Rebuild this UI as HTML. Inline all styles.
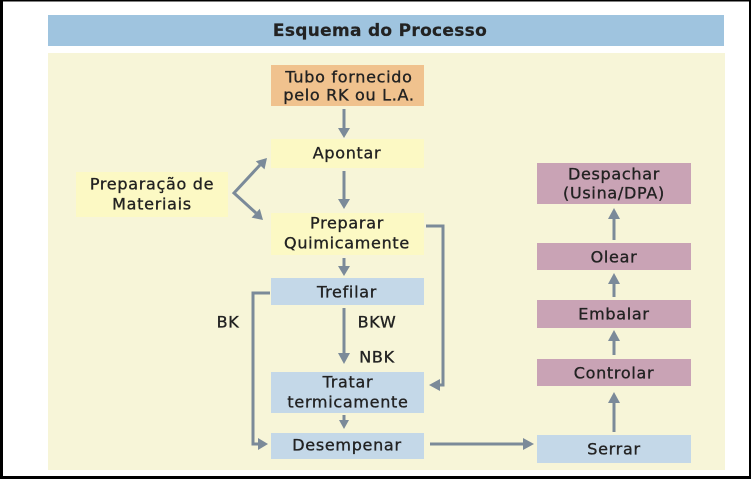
<!DOCTYPE html>
<html><head><meta charset="utf-8"><style>
html,body{margin:0;padding:0;background:#fff;}
svg{display:block;}
text{font-family:"DejaVu Sans","Liberation Sans",sans-serif;fill:#222;stroke:#222;stroke-width:0.35px;font-size:16px;letter-spacing:0.7px;}
</style></head><body>
<svg width="751" height="479" viewBox="0 0 751 479" xmlns="http://www.w3.org/2000/svg">
<rect x="0" y="0" width="751" height="479" fill="#fff"/>
<!-- black frame -->
<rect x="0" y="0" width="751" height="1.5" fill="#000"/>
<rect x="0" y="0" width="3" height="479" fill="#000"/>
<rect x="749" y="0" width="2" height="479" fill="#000"/>
<rect x="0" y="476" width="751" height="3" fill="#000"/>
<!-- header -->
<rect x="48" y="15" width="676" height="31" fill="#9fc4df"/>
<text x="380" y="31" text-anchor="middle" dominant-baseline="central" style="font-weight:bold;font-size:17px;letter-spacing:0.3px;stroke-width:0.2px">Esquema do Processo</text>
<!-- cream panel -->
<rect x="48" y="53" width="677" height="417" fill="#f7f5d8"/>

<!-- boxes -->
<rect x="271" y="65" width="153" height="41" fill="#f0c28e"/>
<rect x="271" y="139" width="153" height="29" fill="#fcf9c4"/>
<rect x="271" y="213" width="153" height="42" fill="#fcf9c4"/>
<rect x="76" y="172" width="152" height="45" fill="#fcf9c4"/>
<rect x="271" y="278" width="153" height="27" fill="#c4d8e8"/>
<rect x="271" y="372" width="153" height="41" fill="#c4d8e8"/>
<rect x="271" y="433" width="153" height="26" fill="#c4d8e8"/>
<rect x="537" y="435" width="154" height="28" fill="#c4d8e8"/>
<rect x="537" y="359" width="154" height="27" fill="#c9a3b5"/>
<rect x="537" y="300" width="154" height="28" fill="#c9a3b5"/>
<rect x="537" y="243" width="154" height="27" fill="#c9a3b5"/>
<rect x="537" y="163" width="154" height="41" fill="#c9a3b5"/>

<!-- texts -->
<text x="349" y="77" text-anchor="middle" dominant-baseline="central">Tubo fornecido</text>
<text x="349" y="95" text-anchor="middle" dominant-baseline="central">pelo RK ou L.A.</text>
<text x="347" y="153" text-anchor="middle" dominant-baseline="central">Apontar</text>
<text x="347" y="223" text-anchor="middle" dominant-baseline="central">Preparar</text>
<text x="347" y="243" text-anchor="middle" dominant-baseline="central">Quimicamente</text>
<text x="152" y="184" text-anchor="middle" dominant-baseline="central">Preparação de</text>
<text x="152" y="204" text-anchor="middle" dominant-baseline="central">Materiais</text>
<text x="347" y="292" text-anchor="middle" dominant-baseline="central">Trefilar</text>
<text x="228" y="322" text-anchor="middle" dominant-baseline="central">BK</text>
<text x="377" y="322" text-anchor="middle" dominant-baseline="central">BKW</text>
<text x="377" y="357" text-anchor="middle" dominant-baseline="central">NBK</text>
<text x="348" y="382" text-anchor="middle" dominant-baseline="central">Tratar</text>
<text x="348" y="402" text-anchor="middle" dominant-baseline="central">termicamente</text>
<text x="347" y="445" text-anchor="middle" dominant-baseline="central">Desempenar</text>
<text x="614" y="449" text-anchor="middle" dominant-baseline="central">Serrar</text>
<text x="614" y="373" text-anchor="middle" dominant-baseline="central">Controlar</text>
<text x="614" y="314" text-anchor="middle" dominant-baseline="central">Embalar</text>
<text x="614" y="257" text-anchor="middle" dominant-baseline="central">Olear</text>
<text x="614" y="174" text-anchor="middle" dominant-baseline="central">Despachar</text>
<text x="614" y="193" text-anchor="middle" dominant-baseline="central">(Usina/DPA)</text>

<!-- connectors -->
<g stroke="#7b8a99" stroke-width="3" fill="none">
<line x1="344" y1="109" x2="344" y2="130"/>
<line x1="344" y1="171" x2="344" y2="201"/>
<line x1="344" y1="258" x2="344" y2="268"/>
<line x1="344" y1="308" x2="344" y2="355"/>
<line x1="344" y1="415" x2="344" y2="422"/>
<line x1="430" y1="444" x2="525" y2="444"/>
<line x1="614" y1="432" x2="614" y2="401"/>
<line x1="614" y1="355" x2="614" y2="339"/>
<line x1="614" y1="297" x2="614" y2="282"/>
<line x1="614" y1="240" x2="614" y2="217"/>
<polyline points="270,293 253,293 253,444 260,444"/>
<polyline points="426,226 443,226 443,385 438,385"/>
<polyline points="260,165 234,193 256,213"/>
</g>
<g fill="#7b8a99">
<polygon points="338,128 350,128 344,138"/>
<polygon points="338,199 350,199 344,209"/>
<polygon points="338,266 350,266 344,276"/>
<polygon points="338,353 350,353 344,364"/>
<polygon points="339,420 349,420 344,429"/>
<polygon points="523,438 523,450 534,444"/>
<polygon points="608,403 620,403 614,392"/>
<polygon points="608,341 620,341 614,330"/>
<polygon points="608,284 620,284 614,273"/>
<polygon points="608,219 620,219 614,208"/>
<polygon points="258,438 258,450 268,444"/>
<polygon points="440,379 440,391 429,385"/>
<polygon points="264.5,169.4 255.8,161.2 267,158"/>
<polygon points="251.6,217.6 259.8,208.8 263,220"/>
</g>
</svg>
</body></html>
